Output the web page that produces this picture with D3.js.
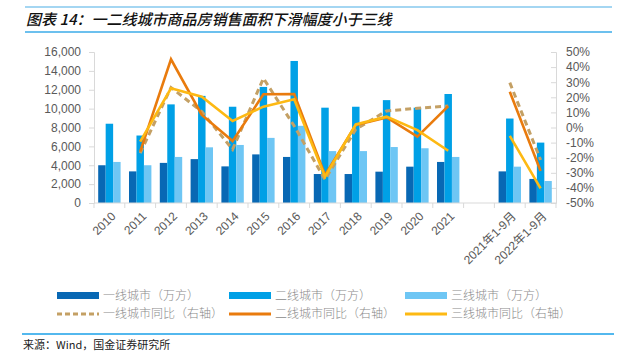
<!DOCTYPE html>
<html>
<head>
<meta charset="utf-8">
<script src="https://cdn.jsdelivr.net/npm/d3@7"></script>
<style>
  html, body { margin: 0; padding: 0; background: #fff; }
  svg { display: block; font-family: "Liberation Sans", Arial, "Noto Sans CJK SC", sans-serif; }
</style>
</head>
<body>
<div id="chart"></div>
<script>
// data (null = no value; "" is the blank gap category)
const categories = ["2010", "2011", "2012", "2013", "2014", "2015", "2016", "2017", "2018", "2019", "2020", "2021", "", "2021年1-9月", "2022年1-9月"];
const tier1Area = [4000, 3350, 4250, 4650, 3880, 5150, 4880, 3070, 3070, 3320, 3850, 4350, null, 3350, 2550];
const tier2Area = [8400, 7150, 10450, 11350, 10200, 12300, 15050, 10100, 10200, 10900, 10100, 11550, null, 8950, 6400];
const tier3Area = [4350, 4000, 4880, 5900, 6150, 6900, 8180, 5500, 5500, 5930, 5800, 4880, null, 3850, 2330];
const tier1Yoy = [null, -17, 26.5, 10.5, -14.5, 32.6, 1, -34.5, -1.2, 11, 12.7, 14.2, null, 29.7, -21.5];
const tier2Yoy = [null, -16, 45.2, 8.3, -9, 22, 22.2, -31.5, 1.7, 6.7, -6, 14.2, null, 23.7, -28.8];
const tier3Yoy = [null, -9.4, 26, 20.4, 4.3, 13.8, 18.7, -32.6, 2, 7.2, -1.7, -15.4, null, -5.6, -40.3];
const leftTicks = [0, 2000, 4000, 6000, 8000, 10000, 12000, 14000, 16000];
const rightTicks = [-50, -40, -30, -20, -10, 0, 10, 20, 30, 40, 50];

const barSeries = [
  { name: "一线城市（万方）", values: tier1Area, color: "#0868b4" },
  { name: "二线城市（万方）", values: tier2Area, color: "#00a0e6" },
  { name: "三线城市（万方）", values: tier3Area, color: "#6ec6f4" }
];
const lineSeries = [
  { name: "一线城市同比（右轴）", values: tier1Yoy, color: "#c4a064", dash: "6,4" },
  { name: "二线城市同比（右轴）", values: tier2Yoy, color: "#e97b0d", dash: null },
  { name: "三线城市同比（右轴）", values: tier3Yoy, color: "#fdb913", dash: null }
];

const width = 620, height = 364;
const plot = { left: 94, right: 556, top: 52, bottom: 203 };
const axisColor = "#d9d9d9";
const textColor = "#595959";
const numFont = "'Liberation Sans', Arial, 'Noto Sans CJK SC', sans-serif";
const cjkFont = "'Noto Sans CJK SC', sans-serif";

const svg = d3.select("#chart").append("svg")
  .attr("width", width).attr("height", height);

// title with blue rules
svg.append("line").attr("x1", 25).attr("x2", 612).attr("y1", 7).attr("y2", 7)
  .attr("stroke", "#4aaee6").attr("stroke-width", 1.2);
svg.append("line").attr("x1", 25).attr("x2", 612).attr("y1", 32).attr("y2", 32)
  .attr("stroke", "#6cc0ee").attr("stroke-width", 2);
svg.append("text")
  .attr("x", 26).attr("y", 25)
  .attr("fill", "#111")
  .style("font-size", "15px")
  .style("font-weight", "500")
  .style("font-style", "italic")
  .style("font-family", cjkFont)
  .text("图表 14：一二线城市商品房销售面积下滑幅度小于三线");

// scales
const x = d3.scaleBand().domain(d3.range(categories.length))
  .range([plot.left, plot.right]).padding(0);
const xInner = d3.scaleBand().domain([0, 1, 2])
  .range([4.2, x.bandwidth() - 4.2]).padding(0);
const yL = d3.scaleLinear().domain([0, 16000]).range([plot.bottom, plot.top]);
const yR = d3.scaleLinear().domain([-50, 50]).range([plot.bottom, plot.top]);

// left axis
const gL = svg.append("g")
  .attr("transform", `translate(${plot.left},0)`)
  .call(d3.axisLeft(yL).tickValues(leftTicks).tickFormat(d3.format(",")).tickSize(5).tickPadding(8));
gL.attr("font-family", numFont);
gL.select(".domain").attr("stroke", axisColor);
gL.selectAll(".tick line").attr("stroke", axisColor);
gL.selectAll("text").attr("fill", textColor).style("font-size", "12px");

// right axis
const gR = svg.append("g")
  .attr("transform", `translate(${plot.right},0)`)
  .call(d3.axisRight(yR).tickValues(rightTicks).tickFormat(d => d + "%").tickSize(-5).tickPadding(10));
gR.attr("font-family", numFont);
gR.select(".domain").attr("stroke", axisColor);
gR.selectAll(".tick line").attr("stroke", axisColor);
gR.selectAll("text").attr("fill", textColor).style("font-size", "12px");

// bars
barSeries.forEach((s, si) => {
  svg.append("g").selectAll("rect")
    .data(s.values.map((v, i) => ({ v, i })).filter(d => d.v != null))
    .enter().append("rect")
    .attr("x", d => x(d.i) + xInner(si))
    .attr("width", xInner.bandwidth())
    .attr("y", d => yL(d.v))
    .attr("height", d => yL(0) - yL(d.v))
    .attr("fill", s.color);
});

// x axis (ticks at band boundaries)
const gX = svg.append("g").attr("transform", `translate(0,${plot.bottom})`);
gX.append("line").attr("x1", plot.left).attr("x2", plot.right)
  .attr("stroke", axisColor);
gX.selectAll(".bound")
  .data(d3.range(categories.length + 1))
  .enter().append("line")
  .attr("x1", i => plot.left + i * x.step())
  .attr("x2", i => plot.left + i * x.step())
  .attr("y1", 0).attr("y2", 5)
  .attr("stroke", axisColor);
gX.selectAll(".lbl")
  .data(categories.map((c, i) => ({ c, i })).filter(d => d.c !== ""))
  .enter().append("text")
  .attr("transform", d => `translate(${x(d.i) + x.bandwidth() / 2 + 4},${11}) rotate(-45)`)
  .attr("text-anchor", "end")
  .attr("dy", "0.35em")
  .attr("fill", textColor)
  .style("font-size", "12px")
  .style("font-family", numFont)
  .text(d => d.c);

// lines
const line = d3.line()
  .defined(d => d.v != null)
  .x(d => x(d.i) + x.bandwidth() / 2)
  .y(d => yR(d.v));
lineSeries.forEach(s => {
  svg.append("path")
    .datum(s.values.map((v, i) => ({ v, i })))
    .attr("d", line)
    .attr("fill", "none")
    .attr("stroke", s.color)
    .attr("stroke-width", s.dash ? 3 : 2.6)
    .attr("stroke-dasharray", s.dash)
    .attr("stroke-linejoin", "miter");
});

// legend
const legendCols = [57, 229, 405];
const legend = svg.append("g");
barSeries.forEach((s, i) => {
  legend.append("rect")
    .attr("x", legendCols[i]).attr("y", 292)
    .attr("width", 42).attr("height", 7)
    .attr("fill", s.color);
  legend.append("text")
    .attr("x", legendCols[i] + 46).attr("y", 295.5)
    .attr("dy", "0.35em")
    .attr("fill", "#8a8a8a")
    .style("font-size", "12px")
    .style("font-weight", "300")
    .style("font-family", cjkFont)
    .text(s.name);
});
lineSeries.forEach((s, i) => {
  legend.append("line")
    .attr("x1", legendCols[i]).attr("x2", legendCols[i] + 42)
    .attr("y1", 314).attr("y2", 314)
    .attr("stroke", s.color)
    .attr("stroke-width", 3)
    .attr("stroke-dasharray", s.dash ? "5,3" : null);
  legend.append("text")
    .attr("x", legendCols[i] + 46).attr("y", 314)
    .attr("dy", "0.35em")
    .attr("fill", "#8a8a8a")
    .style("font-size", "12px")
    .style("font-weight", "300")
    .style("font-family", cjkFont)
    .text(s.name);
});

// source line
svg.append("line").attr("x1", 22).attr("x2", 614).attr("y1", 334).attr("y2", 334)
  .attr("stroke", "#1aa0e8").attr("stroke-width", 1.5);
svg.append("text")
  .attr("x", 23).attr("y", 349)
  .attr("fill", "#222")
  .style("font-size", "11px")
  .style("font-family", cjkFont)
  .text("来源：Wind，国金证券研究所");
</script>
</body>
</html>
